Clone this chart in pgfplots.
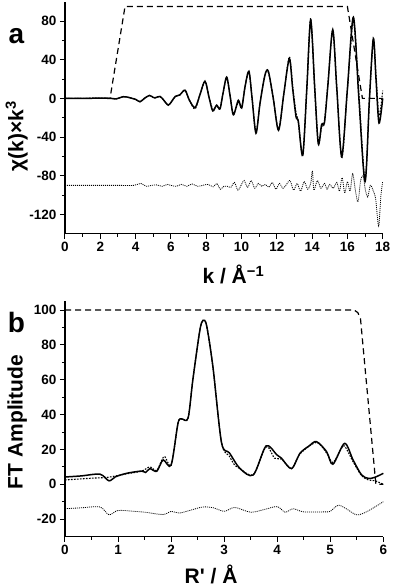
\documentclass[border=0pt]{standalone}
\usepackage{fontspec}
\setmainfont{Liberation Sans}
\usepackage{pgfplots}
\pgfplotsset{compat=1.18}
\begin{document}
\begin{tikzpicture}
\useasboundingbox (0,0) rectangle (392pt,586pt);
\pgfplotsset{
  myaxis/.style={
    scale only axis,
    anchor=south west,
    axis x line=bottom, axis y line=left,
    axis line style={-, line width=1.1pt, black},
    tick align=outside,
    tick style={black, line width=1pt},
    major tick length=5pt, minor tick length=3pt,
    minor tick num=1,
    /pgf/number format/assume math mode=true,
    tick label style={font=\fontsize{13.5}{15}\selectfont\bfseries},
    label style={font=\fontsize{21}{24}\selectfont\bfseries},
    clip=false,
  },
  dataline/.style={black, line width=1.5pt, smooth},
  fitline/.style={black, line width=1.1pt, dash pattern=on 1.6pt off 1.4pt, smooth},
  winline/.style={black, line width=1.2pt, dash pattern=on 6pt off 4pt},
  resline/.style={black, line width=0.8pt, dash pattern=on 1pt off 1pt, smooth},
}
% ---------------- panel a ----------------
\begin{axis}[myaxis,
  at={(65pt,352.3pt)}, width=317.7pt, height=232pt,
  xmin=0, xmax=18, ymin=-140, ymax=100,
  xtick={0,2,...,18}, ytick={-120,-80,-40,0,40,80},
  xlabel={k / Å\textsuperscript{−1}},
  ylabel={χ(k)×k\textsuperscript{3}},
  xlabel style={at={(axis description cs:0.53,-0.177)}, anchor=center},
  ylabel style={at={(axis description cs:-0.152,0.421)}, anchor=center},
]
\addplot[winline] coordinates {(0,0) (2.55,0) (3.4,95) (16.0,95) (16.85,0) (18,0)};
\addplot[resline] coordinates {
(0,-90) (1,-90) (2,-90) (3,-90) (3.9,-90) (4.3,-88) (4.6,-91) (4.9,-90) (5.2,-89.5)
(5.5,-91) (5.8,-89) (6.0,-90) (6.3,-91) (6.6,-89) (6.9,-91) (7.2,-88.5) (7.5,-91)
(7.8,-90) (8.1,-89) (8.4,-91.5) (8.6,-88) (8.8,-94) (9.0,-91) (9.2,-91) (9.4,-92)
(9.6,-87) (9.8,-95) (10.0,-89) (10.15,-85) (10.35,-92) (10.55,-85) (10.75,-93)
(10.95,-88) (11.15,-91) (11.35,-89) (11.55,-92) (11.75,-87) (11.95,-94) (12.15,-88)
(12.35,-93) (12.55,-89) (12.75,-85) (12.95,-95) (13.15,-88) (13.35,-96) (13.55,-86)
(13.75,-94) (13.92,-88) (14.02,-75) (14.1,-95) (14.3,-85) (14.5,-93) (14.7,-88)
(14.85,-94) (15.0,-89) (15.2,-93) (15.4,-87) (15.55,-96) (15.7,-82) (15.85,-98)
(16.0,-86) (16.15,-96) (16.3,-78) (16.45,-95) (16.6,-107) (16.75,-85) (16.9,-80)
(17.0,-93) (17.15,-102) (17.3,-90) (17.45,-95) (17.6,-104) (17.77,-132) (17.9,-100) (18.0,-86)
};
\addplot[dataline] coordinates {
(0,0) (1,0) (2,0.2) (2.6,0) (2.9,-0.5) (3.3,1.7) (3.6,1) (3.8,0) (4.0,-1) (4.25,-3.5)
(4.5,0) (4.78,3) (5.0,1) (5.1,0.5) (5.38,2) (5.6,-2) (5.85,-7) (6.05,-3) (6.25,2)
(6.5,3.5) (6.8,8.5) (7.05,-2) (7.37,-9.5) (7.65,4) (7.93,17.8) (8.15,2) (8.37,-13)
(8.59,-7) (8.78,-11) (8.95,5) (9.16,22) (9.35,3) (9.54,-17) (9.82,-2) (10.01,-10)
(10.2,12) (10.42,28) (10.6,0) (10.82,-36) (11.05,-5) (11.33,24) (11.52,28) (11.8,0)
(12.1,-33) (12.4,5) (12.71,41) (12.9,10) (13.09,-19) (13.22,-24) (13.47,-59) (13.7,10)
(13.92,81) (14.15,10) (14.35,-47) (14.54,-27) (14.7,-25) (14.9,15) (15.17,71) (15.4,10)
(15.68,-60) (16.0,10) (16.34,84) (16.65,0) (17.0,-86) (17.25,0) (17.47,62) (17.62,20)
(17.79,-25.6) (18.0,0)
};
\addplot[fitline] coordinates {
(0,0) (1,0) (2,0.2) (2.6,0) (2.9,-0.5) (3.3,1.7) (3.6,1) (3.8,0) (4.0,-1) (4.25,-3.5)
(4.5,0) (4.78,3) (5.0,1) (5.1,0.5) (5.38,2) (5.6,-2) (5.85,-7) (6.05,-3) (6.25,2)
(6.5,3.5) (6.8,8) (7.05,-2) (7.37,-11) (7.65,4) (7.93,17.5) (8.15,2) (8.37,-11)
(8.59,-8) (8.78,-10) (8.95,5) (9.16,21) (9.35,3) (9.54,-16) (9.82,-4) (10.01,-9)
(10.2,12) (10.42,27) (10.6,0) (10.82,-35) (11.05,-5) (11.33,25) (11.52,27) (11.8,0)
(12.1,-32) (12.4,5) (12.71,43) (12.9,12) (13.09,-15) (13.22,-24) (13.47,-58) (13.7,10)
(13.92,83) (14.15,10) (14.35,-45) (14.54,-30) (14.7,-24) (14.9,15) (15.17,70) (15.4,10)
(15.68,-62) (16.0,8) (16.34,80) (16.65,5) (17.0,-84) (17.25,0) (17.47,60) (17.62,25)
(17.79,-18) (18.0,8)
};
\end{axis}
% ---------------- panel b ----------------
\begin{axis}[myaxis,
  at={(65pt,49.4pt)}, width=318.3pt, height=235.3pt,
  xmin=0, xmax=6, ymin=-30, ymax=105,
  xtick={0,1,...,6}, ytick={-20,0,20,40,60,80,100},
  xlabel={R\textquotesingle{} / Å},
  ylabel={FT Amplitude},
  xlabel style={at={(axis description cs:0.459,-0.159)}, anchor=center},
  ylabel style={at={(axis description cs:-0.15,0.487)}, anchor=center},
]
\addplot[winline] coordinates {(0,100) (5.45,100) (5.52,98.5) (5.57,95) (5.86,0) (6,0)};
\addplot[resline] coordinates {
(0,-14) (0.3,-13.5) (0.66,-13) (0.83,-17.5) (1.0,-15) (1.3,-15.5) (1.5,-16) (1.85,-17.3)
(2.0,-15.5) (2.15,-16.5) (2.35,-15) (2.6,-13) (2.8,-13.5) (3.0,-15.5) (3.2,-13.3)
(3.5,-16) (3.75,-14.5) (4.0,-12.8) (4.15,-16) (4.3,-14) (4.5,-15.8) (4.9,-15.8)
(5.0,-15.5) (5.15,-12) (5.3,-14) (5.5,-17.5) (5.7,-15.5) (6.0,-10)
};
\addplot[dataline] coordinates {
(0,4.2) (0.3,4.8) (0.66,5.8) (0.83,2.0) (0.95,4.3) (1.16,6.3) (1.44,7.6) (1.52,6.8)
(1.6,9) (1.73,7.5) (1.85,14) (2.0,11) (2.13,35) (2.2,37.5) (2.32,38) (2.41,60)
(2.54,88) (2.6,94) (2.67,91) (2.79,67) (2.95,24) (3.1,18) (3.3,9) (3.55,5.4)
(3.79,22) (3.99,17) (4.08,15) (4.27,9) (4.43,17.8) (4.6,22) (4.74,24.5) (4.93,18.8)
(5.05,11.5) (5.27,23.5) (5.43,14) (5.59,5.4) (5.72,3.4) (5.84,4) (6.0,6.3)
};
\addplot[fitline] coordinates {
(0,2.5) (0.5,3.5) (0.8,4) (1.16,6) (1.44,7.5) (1.6,10) (1.73,8) (1.87,16) (2.0,11)
(2.13,35) (2.2,37.5) (2.32,38) (2.41,60) (2.54,88) (2.6,94) (2.67,91) (2.79,67)
(2.95,24) (3.1,16) (3.2,11) (3.3,9) (3.55,5.5) (3.79,21.5) (3.95,15) (4.08,14.5)
(4.27,9) (4.43,17.5) (4.74,24) (4.93,18) (5.05,12.5) (5.2,20) (5.27,22) (5.43,13)
(5.59,5) (5.72,2.5) (5.85,2) (6.0,0)
};
\end{axis}
\node[font=\fontsize{28}{30}\selectfont\bfseries] at (16.5pt,549.5pt) {a};
\node[font=\fontsize{28}{30}\selectfont\bfseries] at (16.5pt,263.5pt) {b};
\end{tikzpicture}
\end{document}
